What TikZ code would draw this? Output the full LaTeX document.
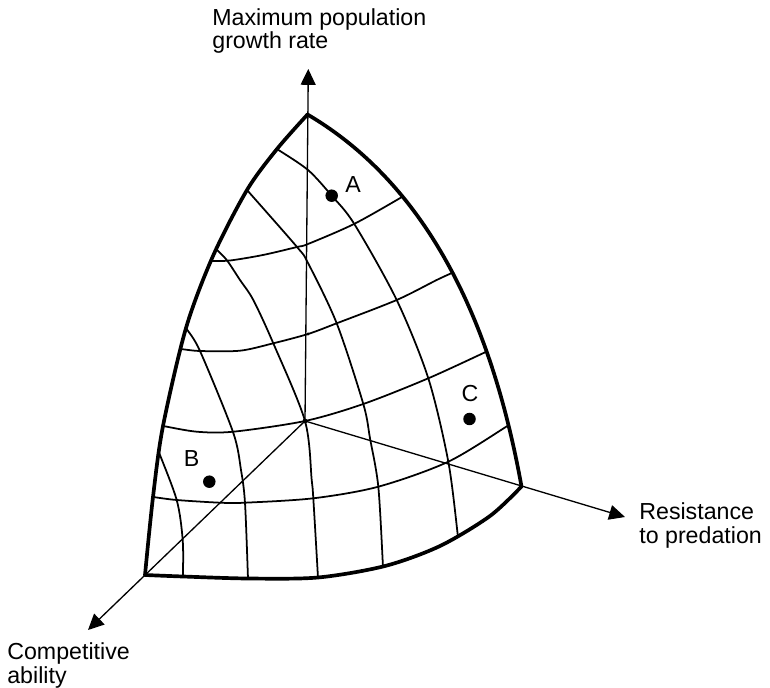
\documentclass[tikz,border=0pt]{standalone}
\usepackage{fontspec}
\setmainfont{Liberation Sans}
\usetikzlibrary{arrows.meta}

\begin{document}
\begin{tikzpicture}[x=0.02cm,y=-0.02cm,
    rim/.style={line width=2.1pt,line join=round},
    gridline/.style={line width=1pt},
    axisarrow/.style={line width=0.75pt,-{Triangle[length=9pt,width=8.5pt]}},
    spot/.style={circle,fill,inner sep=0pt,minimum size=0.25cm},
    tag/.style={font=\fontsize{13.2}{13.2}\selectfont,inner sep=0pt},
    axislabel/.style={tag,align=left,anchor=base west}]
    \useasboundingbox (0,0) rectangle (770,688);

    % --- Corners of the octant and ends of the axes ---
    \coordinate (O) at (305,421);
    \coordinate (T) at (307.5,114.5);
    \coordinate (L) at (145,575);
    \coordinate (R) at (521.5,486.5);
    \coordinate (tipUp) at (308.3,69);
    \coordinate (tipComp) at (88,630);
    \coordinate (tipRes) at (625,517);

    % Path of the curved surface (left edge, bottom edge, right edge)
    \def\surface{plot[smooth] coordinates {(T) (277,149) (247,190) (213,256) (186,328) (163,426) (153,497) (L)}
        -- plot[smooth] coordinates {(L) (183,576.5) (248,578.5) (318,577.5) (385,566) (440,546) (490,516) (R)}
        .. controls (494.9,338.9) and (436.8,190.5) .. (T) -- cycle}

    % Grid lines, clipped to the surface
    \begin{scope}
        \clip \surface;
        % constant growth rate
        \draw[gridline] plot[smooth] coordinates {(198,262) (211,261) (230,260.5) (263,255) (297,247) (308,244) (354,224) (402,197) (420,186)};
        \draw[gridline] plot[smooth] coordinates {(168,349) (180,349) (200,351) (240,350.7) (273.3,343.3) (308,334) (336.7,323.3) (396.7,300) (436.7,280) (454,272) (467,265.5)};
        \draw[gridline] plot[smooth] coordinates {(151,424) (163,426) (196.7,431.7) (233.3,431.7) (O) (363.3,404) (428.3,378.3) (490,350) (503,344)};
        \draw[gridline] plot[smooth] coordinates {(141,495.5) (153,497) (176.7,500) (220,502.7) (245,502.7) (313.3,498.3) (378.3,486.7) (448.3,461.7) (509,425) (521,418)};
        % constant competitive ability
        \draw[gridline] plot[smooth] coordinates {(268,143) (277,149) (308,170) (331.7,195.7) (354.3,224) (396.7,300) (428.3,378.3) (448.3,461.7) (458,537) (459.5,550)};
        \draw[gridline] plot[smooth] coordinates {(239,181) (247,190) (297,247) (308,263) (336.7,323.3) (363.3,404) (370,438.3) (378.3,486.7) (383,567) (383.7,580)};
        \draw[gridline] plot[smooth] coordinates {(208,241) (216,249) (226.7,260) (240,280) (253.3,300) (273.3,343.3) (O) (311.7,480) (313.3,498.3) (318,578) (318.3,589)};
        \draw[gridline] plot[smooth] coordinates {(180,317) (186,328) (200,351) (233,432) (241,470) (245,503) (248,578.5) (248.3,589)};
        \draw[gridline] plot[smooth] coordinates {(153,438) (158,450) (176.7,500) (182.7,540) (183,576.5) (183.2,587)};
    \end{scope}

    % Axes
    \draw[axisarrow] (O) -- (tipUp);
    \draw[axisarrow] (O) -- (tipComp);
    \draw[axisarrow] (O) -- (tipRes);
    \fill (O) circle (2.4);
    \fill (308,334) circle (1.7);

    % Draw Outline
    \draw[rim] \surface;

    % Species A, B and C
    \node[spot] (dotA) at (331.7,195.7) {};
    \node[spot] (dotB) at (209.3,481.7) {};
    \node[spot] (dotC) at (469.5,419) {};
    \node[tag] (labA) at (353,185) {A};
    \node[tag] (labB) at (191.7,458.5) {B};
    \node[tag] (labC) at (470,393.5) {C};

    % Axis names (anchored on the last line)
    \node[axislabel] (growth) at (212,48.5) {Maximum population\\growth rate};
    \node[axislabel] (resist) at (639,543) {Resistance\\to predation};
    \node[axislabel] (compet) at (7,683) {Competitive\\ability};
\end{tikzpicture}
\end{document}
